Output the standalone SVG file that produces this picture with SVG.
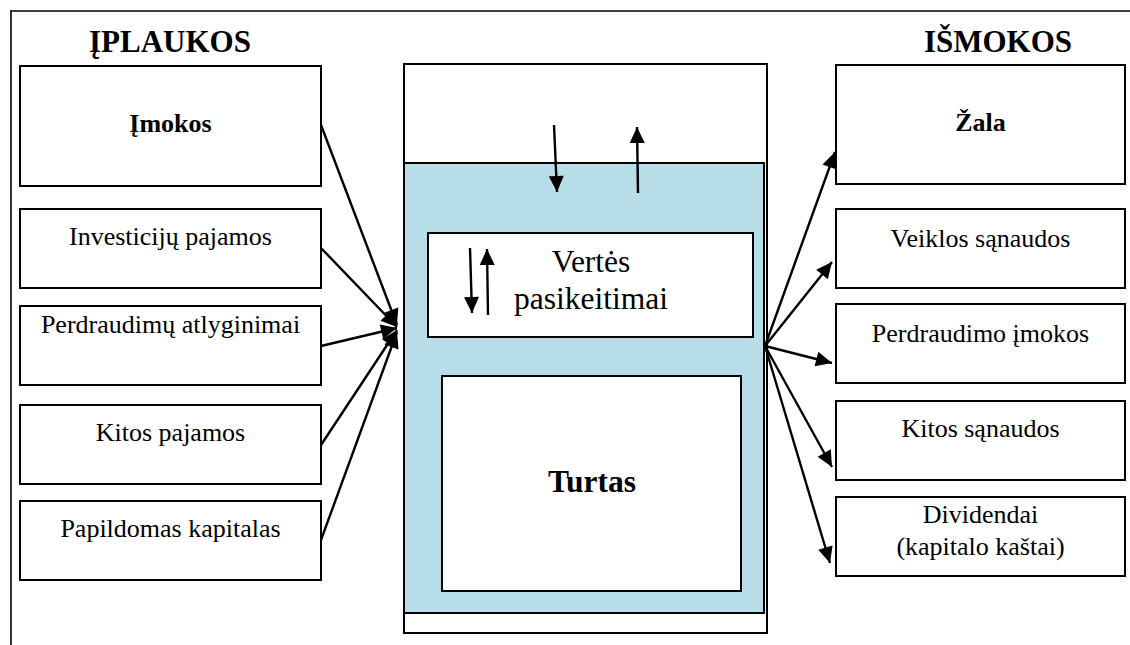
<svg xmlns="http://www.w3.org/2000/svg" width="1130" height="645" viewBox="0 0 1130 645">
<style>
.box{fill:#fff;stroke:#000;stroke-width:2}
.t{font-family:"Liberation Serif","Times New Roman",serif;font-size:26px;fill:#000;text-anchor:middle}
.b{font-weight:bold}
.big{font-size:31.5px}
.title{font-family:"Liberation Serif","Times New Roman",serif;font-size:31px;font-weight:bold;text-anchor:middle}
.c{stroke:#000;stroke-width:2.4;fill:none;marker-end:url(#ah)}
</style>
<defs>
<marker id="ah" markerUnits="userSpaceOnUse" markerWidth="16" markerHeight="15" refX="16" refY="7.5" orient="auto" overflow="visible">
<path d="M0,0 L16,7.5 L0,15 z" fill="#000"/>
</marker>
</defs>
<g id="frame">
<line x1="10" y1="11" x2="1130" y2="11" stroke="#000" stroke-width="1.6"/>
<line x1="11" y1="11" x2="11" y2="645" stroke="#000" stroke-width="1.6"/>
</g>
<text class="title" x="170" y="52">ĮPLAUKOS</text>
<text class="title" x="998" y="52">IŠMOKOS</text>
<g id="in-imokos"><rect class="box" x="20" y="66" width="301" height="120"/><text class="t b" x="170.5" y="132">Įmokos</text></g>
<g id="in-invest"><rect class="box" x="20" y="209" width="301" height="79"/><text class="t" x="170.5" y="245">Investicijų pajamos</text></g>
<g id="in-perdr"><rect class="box" x="20" y="306" width="301" height="79"/><text class="t" x="170.5" y="333">Perdraudimų atlyginimai</text></g>
<g id="in-kitos"><rect class="box" x="20" y="405" width="301" height="79"/><text class="t" x="170.5" y="441">Kitos pajamos</text></g>
<g id="in-papild"><rect class="box" x="20" y="501" width="301" height="79"/><text class="t" x="170.5" y="537">Papildomas kapitalas</text></g>
<g id="column">
<rect class="box" x="404" y="64" width="363" height="569"/>
<rect x="404" y="163" width="360" height="450" fill="#B7DDE8" stroke="#000" stroke-width="2"/>
</g>
<g id="verte"><rect class="box" x="428" y="233" width="325" height="104"/><text class="t big" x="591" y="272">Vertės</text><text class="t big" x="591" y="309">pasikeitimai</text></g>
<g id="turtas"><rect class="box" x="442" y="376" width="299" height="215"/><text class="t b big" x="592" y="492">Turtas</text></g>
<g id="out-zala"><rect class="box" x="836" y="65" width="289" height="119"/><text class="t b" x="980.5" y="131">Žala</text></g>
<g id="out-veikl"><rect class="box" x="836" y="209" width="289" height="79"/><text class="t" x="980.5" y="247">Veiklos sąnaudos</text></g>
<g id="out-perdr"><rect class="box" x="836" y="304" width="289" height="79"/><text class="t" x="980.5" y="342">Perdraudimo įmokos</text></g>
<g id="out-kitos"><rect class="box" x="836" y="401" width="289" height="79"/><text class="t" x="980.5" y="437">Kitos sąnaudos</text></g>
<g id="out-divid"><rect class="box" x="836" y="497" width="289" height="79"/><text class="t" x="980.5" y="523">Dividendai</text><text class="t" x="980.5" y="555">(kapitalo kaštai)</text></g>
<g id="connectors">
<line class="c" x1="321" y1="125" x2="397" y2="325"/>
<line class="c" x1="321" y1="248" x2="397" y2="327"/>
<line class="c" x1="321" y1="346" x2="397" y2="328"/>
<line class="c" x1="321" y1="445" x2="397" y2="330"/>
<line class="c" x1="321" y1="540" x2="397" y2="332"/>
<line class="c" x1="765" y1="346" x2="835" y2="152"/>
<line class="c" x1="765" y1="346" x2="832" y2="262"/>
<line class="c" x1="765" y1="346" x2="832" y2="363"/>
<line class="c" x1="765" y1="346" x2="832" y2="467"/>
<line class="c" x1="765" y1="346" x2="830" y2="563"/>
<line class="c" x1="554" y1="125" x2="557" y2="192"/>
<line class="c" x1="638" y1="193" x2="637" y2="127"/>
<line class="c" x1="470" y1="248" x2="472" y2="313"/>
<line class="c" x1="488" y1="315" x2="487" y2="249"/>
</g>
</svg>
